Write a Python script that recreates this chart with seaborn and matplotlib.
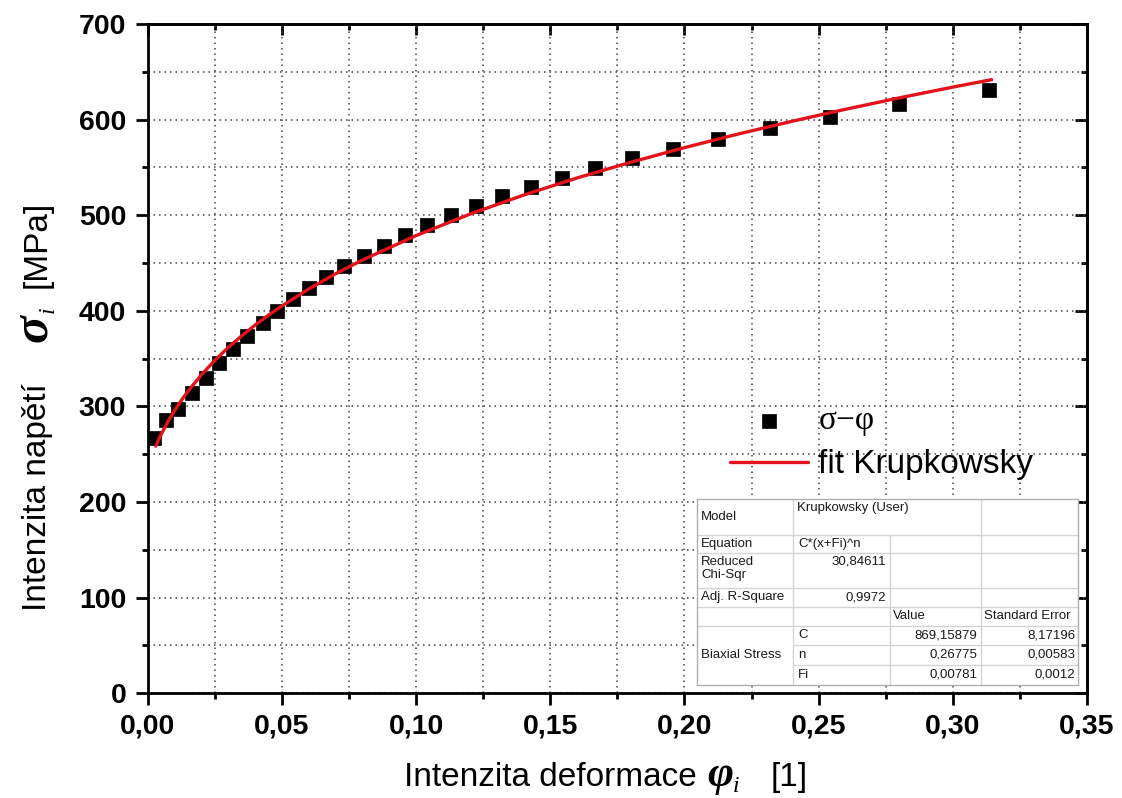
import matplotlib
matplotlib.use("Agg")
import matplotlib.pyplot as plt
from matplotlib.ticker import MultipleLocator, FuncFormatter, NullFormatter
from matplotlib.transforms import IdentityTransform
import seaborn as sns
import pandas as pd

# ---------------- data ----------------
strain = [0.0023, 0.0068, 0.0113, 0.0165, 0.0217, 0.0266, 0.0318, 0.0370, 0.0430, 0.0482,
          0.0541, 0.0601, 0.0664, 0.0731, 0.0806, 0.0880, 0.0959, 0.1041, 0.1130, 0.1223,
          0.1320, 0.1428, 0.1544, 0.1667, 0.1805, 0.1957, 0.2125, 0.2319, 0.2542, 0.2799, 0.3135]
stress = [267.0, 285.9, 297.4, 314.1, 329.8, 345.5, 360.1, 373.7, 387.3, 399.9,
          412.4, 423.9, 435.5, 447.0, 457.4, 467.9, 479.4, 489.9, 500.3, 509.7,
          520.2, 529.6, 539.0, 549.5, 560.0, 569.4, 579.8, 591.3, 602.8, 616.4, 631.1]

fit_x = [0.003, 0.004, 0.005, 0.0075, 0.010, 0.0125, 0.015, 0.020, 0.025, 0.030, 0.035,
         0.040, 0.045, 0.050, 0.060, 0.070, 0.080, 0.100, 0.120, 0.140, 0.160, 0.180,
         0.200, 0.220, 0.240, 0.260, 0.280, 0.300, 0.3145]
fit_y = [258.5, 264.8, 270.7, 283.9, 295.6, 306.2, 315.9, 333.1, 348.1, 361.7, 373.8,
         385.1, 395.5, 405.1, 422.8, 438.8, 453.1, 478.7, 501.1, 521.0, 539.0, 555.4,
         570.7, 584.9, 598.2, 610.8, 622.7, 634.0, 641.8]

series_labels = ["σ−φ", "fit Krupkowsky"]

table_rows = [
    ["Model", "Krupkowsky (User)", "", ""],
    ["Equation", "C*(x+Fi)^n", "", ""],
    ["Reduced\nChi-Sqr", "30,84611", "", ""],
    ["Adj. R-Square", "0,9972", "", ""],
    ["", "", "Value", "Standard Error"],
    ["Biaxial Stress", "C", "869,15879", "8,17196"],
    ["", "n", "0,26775", "0,00583"],
    ["", "Fi", "0,00781", "0,0012"],
]

# ---------------- style ----------------
sns.set_theme(style="ticks")
plt.rcParams['font.family'] = ['Liberation Sans', 'DejaVu Sans']
plt.rcParams['text.color'] = 'black'
plt.rcParams['axes.labelcolor'] = 'black'
plt.rcParams['xtick.color'] = 'black'
plt.rcParams['ytick.color'] = 'black'
plt.rcParams['xtick.labelcolor'] = 'black'
plt.rcParams['ytick.labelcolor'] = 'black'

W, H = 1122, 798
fig = plt.figure(figsize=(W / 100, H / 100), dpi=100)
fig.patch.set_facecolor("white")

x0p, x1p, y0p, y1p = 147.7, 1087.0, 693.3, 24.0
ax = fig.add_axes([x0p / W, 1 - y0p / H, (x1p - x0p) / W, (y0p - y1p) / H])
ax.set_facecolor("white")

df_pts = pd.DataFrame({"strain": strain, "stress": stress})
df_fit = pd.DataFrame({"strain": fit_x, "stress": fit_y})

sns.scatterplot(data=df_pts, x="strain", y="stress", marker="s", s=95, color="black",
                edgecolor="black", linewidth=0.5, ax=ax, zorder=3, label=series_labels[0],
                legend=False)
sns.lineplot(data=df_fit, x="strain", y="stress", color="#e3121b", linewidth=2.4, ax=ax,
             zorder=4, label=series_labels[1], legend=False)

ax.set_xlim(0, 0.35)
ax.set_ylim(0, 700)
ax.xaxis.set_major_locator(MultipleLocator(0.05))
ax.xaxis.set_minor_locator(MultipleLocator(0.025))
ax.yaxis.set_major_locator(MultipleLocator(100))
ax.yaxis.set_minor_locator(MultipleLocator(50))
ax.xaxis.set_major_formatter(FuncFormatter(lambda v, _: f"{v:.2f}".replace(".", ",")))
ax.yaxis.set_major_formatter(FuncFormatter(lambda v, _: f"{v:.0f}"))

ax.grid(which="both", linestyle=(0, (1, 2.6)), color="#444444", linewidth=1.1)
ax.set_axisbelow(True)

ax.tick_params(which="both", direction="out", top=False, right=False, width=2,
               color="black", labelcolor="black")
ax.tick_params(which="major", length=8.5, labelsize=20.5, pad=6)
ax.tick_params(which="minor", length=4.2)
ax.tick_params(axis="y", which="major", pad=7)
for lab in ax.get_xticklabels() + ax.get_yticklabels():
    lab.set_fontweight("bold")
for sp in ax.spines.values():
    sp.set_linewidth(2.0)
    sp.set_color("black")
    sp.set_visible(True)
ax.set_xlabel("")
ax.set_ylabel("")

secx = ax.secondary_xaxis("top")
secx.xaxis.set_major_locator(MultipleLocator(0.05))
secx.xaxis.set_minor_locator(MultipleLocator(0.025))
secx.xaxis.set_major_formatter(NullFormatter())
secx.tick_params(which="both", direction="in", width=2, color="black")
secx.tick_params(which="major", length=8)
secx.tick_params(which="minor", length=4.2)
secx.spines["top"].set_linewidth(2.0)

secy = ax.secondary_yaxis("right")
secy.yaxis.set_major_locator(MultipleLocator(100))
secy.yaxis.set_minor_locator(MultipleLocator(50))
secy.yaxis.set_major_formatter(NullFormatter())
secy.tick_params(which="both", direction="in", width=2, color="black")
secy.tick_params(which="major", length=8.5)
secy.tick_params(which="minor", length=4.2)
secy.spines["right"].set_linewidth(2.0)

# ---------------- legend ----------------
handles = [ax.collections[0], ax.lines[0]]
leg = ax.legend(handles=handles, labels=series_labels, frameon=False, fontsize=24,
                loc="upper left", bbox_to_anchor=(730 / W, 1 - 406 / H),
                bbox_transform=fig.transFigure, borderaxespad=0, borderpad=0,
                handlelength=2.35, handletextpad=0.3, labelspacing=0.38)
for t in leg.get_texts():
    t.set_color("black")
leg.get_texts()[0].set_fontfamily(["Liberation Serif", "DejaVu Serif"])
leg.set_zorder(6)

# ---------------- composite axis labels ----------------
ident = IdentityTransform()

sans = dict(fontsize=24, family=["Liberation Sans", "DejaVu Sans"], color="black")
greek = dict(fontsize=32, family=["Liberation Serif", "DejaVu Serif"], style="italic",
             weight="bold", color="black")
sub = dict(fontsize=17, family=["Liberation Serif", "DejaVu Serif"], style="italic",
           color="black")
greek_s = dict(greek, fontsize=37)

# x label pieces: (text, props, start x in px from left, baseline drop)
for txt, kw, px, drop in [("Intenzita deformace", sans, 404, 0), ("φ", greek, 707, 0),
                          ("i", sub, 733, 6), ("[1]", sans, 771, 0)]:
    fig.text(px, H - 786 - drop, txt, ha="left", va="baseline", transform=ident, **kw)

# y label pieces (rotated): (text, props, start y in px from top, baseline shift)
for txt, kw, py, drop in [("Intenzita napětí", sans, 611, 0), ("σ", greek_s, 342, 0),
                          ("i", sub, 313, 8), ("[MPa]", sans, 288, 0)]:
    fig.text(46 + drop, H - py, txt, rotation=90, rotation_mode="anchor", ha="left",
             va="baseline", transform=ident, **kw)

# ---------------- fit table ----------------
tx0, tx1, ty0, ty1 = 697, 1078, 499, 685
tax = fig.add_axes([tx0 / W, 1 - ty1 / H, (tx1 - tx0) / W, (ty1 - ty0) / H])
tax.set_zorder(7)
tax.set_xlim(tx0, tx1)
tax.set_ylim(ty1, ty0)
tax.set_xticks([])
tax.set_yticks([])
tax.set_facecolor("white")
for sp in tax.spines.values():
    sp.set_color("#b0b0b0")
    sp.set_linewidth(1.0)

rows_y = [499, 535, 553, 588, 607, 626, 645, 665, 685]
cols_x = [697, 793, 890, 981, 1078]
lc = "#d4d4d4"
for i in range(1, 8):
    xs = cols_x[1] if i in (6, 7) else cols_x[0]
    tax.hlines(rows_y[i], xs, cols_x[4], color=lc, linewidth=1.0)
tax.vlines(cols_x[1], ty0, ty1, color=lc, linewidth=1.0)
tax.vlines(cols_x[2], rows_y[1], ty1, color=lc, linewidth=1.0)
tax.vlines(cols_x[3], ty0, ty1, color=lc, linewidth=1.0)

tfs = 9.5
tc = "#1a1a1a"
for r, row in enumerate(table_rows):
    yc = (rows_y[r] + rows_y[r + 1]) / 2
    ytop = rows_y[r] + 2.5
    if row[0]:
        if r == 5:
            tax.text(cols_x[0] + 4, (rows_y[5] + rows_y[8]) / 2, row[0], fontsize=tfs,
                     color=tc, ha="left", va="center")
        elif r == 2:
            tax.text(cols_x[0] + 4, ytop + 1, row[0], fontsize=tfs, color=tc,
                     ha="left", va="top", linespacing=1.05)
        else:
            tax.text(cols_x[0] + 4, yc, row[0], fontsize=tfs, color=tc, ha="left",
                     va="center")
    if row[1]:
        if r == 0:
            tax.text(cols_x[1] + 4, ytop, row[1], fontsize=tfs, color=tc, ha="left", va="top")
        elif r in (2, 3):
            tax.text(cols_x[2] - 4, ytop if r == 2 else yc, row[1], fontsize=tfs, color=tc,
                     ha="right", va="top" if r == 2 else "center")
        else:
            tax.text(cols_x[1] + 5, yc, row[1], fontsize=tfs, color=tc, ha="left",
                     va="center")
    if row[2]:
        if r == 4:
            tax.text(cols_x[2] + 3, yc, row[2], fontsize=tfs, color=tc, ha="left", va="center")
        else:
            tax.text(cols_x[3] - 4, yc, row[2], fontsize=tfs, color=tc, ha="right",
                     va="center")
    if row[3]:
        if r == 4:
            tax.text(cols_x[3] + 3, yc, row[3], fontsize=tfs, color=tc, ha="left", va="center")
        else:
            tax.text(cols_x[4] - 3, yc, row[3], fontsize=tfs, color=tc, ha="right",
                     va="center")

fig.savefig("out.png", dpi=100, facecolor="white")
